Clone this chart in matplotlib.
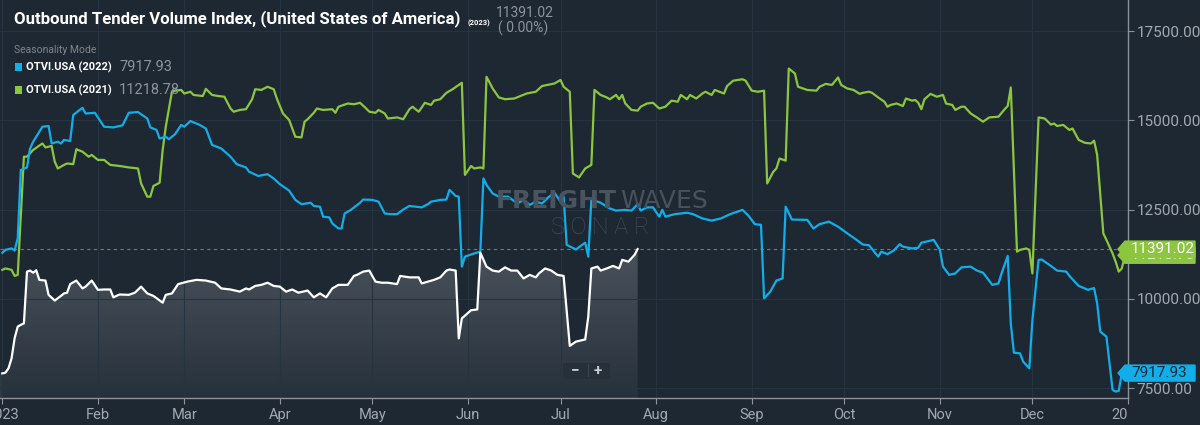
import numpy as np
import matplotlib
matplotlib.use('Agg')
import matplotlib.pyplot as plt
import matplotlib.dates as mdates
from matplotlib.colors import LinearSegmentedColormap
from matplotlib.patches import Polygon, Rectangle, FancyBboxPatch
from matplotlib.lines import Line2D
from matplotlib.transforms import Bbox

# day of year (0 = Jan 1) and index value
otvi_2023_day = [0, 1, 2, 3, 4, 5, 6, 7, 8, 9, 10, 11, 12, 14, 15, 17, 19, 20, 21, 22, 24, 26, 27, 29, 31,
                 33, 35, 36, 38, 41, 43, 45, 47, 49, 52, 53, 55, 57, 60, 63, 66, 69, 71, 74, 77, 79, 80, 82,
                 84, 86, 88, 90, 92, 94, 96, 99, 101, 103, 105, 107, 109, 112, 114, 115, 117, 119, 121, 123,
                 125, 128, 129, 132, 135, 136, 140, 142, 144, 145, 147, 148, 149, 152, 154, 155, 157, 159,
                 161, 163, 165, 167, 169, 171, 173, 174, 176, 178, 180, 182, 184, 186, 189, 190, 191, 193,
                 194, 196, 198, 200, 201, 203, 205, 206]
otvi_2023_val = [7910, 7930, 8050, 8330, 8900, 9220, 9270, 9310, 10760, 10790, 10730, 10800, 10530, 10510,
                 10110, 9950, 10080, 10150, 10170, 10410, 10510, 10290, 10340, 10510, 10250, 10260, 10260,
                 10040, 10120, 10110, 10170, 10340, 10150, 10080, 9890, 10110, 10150, 10410, 10480, 10530,
                 10510, 10450, 10290, 10260, 10200, 10290, 10260, 10360, 10390, 10450, 10360, 10340, 10200,
                 10260, 10170, 10230, 10040, 10150, 10040, 10290, 10390, 10390, 10640, 10670, 10760, 10790,
                 10480, 10450, 10450, 10410, 10640, 10600, 10600, 10430, 10530, 10600, 10790, 10820, 10790,
                 8890, 9450, 9680, 9700, 11290, 10900, 10790, 10760, 10880, 10790, 10790, 10570, 10670,
                 10600, 10710, 10850, 10790, 10670, 10640, 8680, 8800, 8860, 9500, 10850, 10900, 10790,
                 10850, 10920, 10850, 11090, 11040, 11230, 11391.02]

otvi_2022_day = [0, 1, 3, 4, 5, 6, 8, 9, 10, 13, 15, 16, 18, 19, 20, 22, 23, 26, 27, 30, 33, 36, 39, 41, 44,
                 47, 48, 50, 51, 53, 54, 56, 58, 59, 61, 64, 66, 68, 71, 74, 76, 79, 80, 83, 86, 88, 90, 93,
                 95, 97, 100, 101, 103, 104, 106, 107, 109, 110, 111, 113, 116, 117, 120, 122, 124, 126, 128,
                 130, 132, 134, 136, 138, 139, 142, 144, 145, 147, 148, 149, 150, 153, 155, 156, 157, 159,
                 161, 164, 167, 169, 171, 173, 175, 177, 179, 181, 182, 183, 186, 188, 189, 190, 191, 194,
                 197, 199, 202, 204, 206, 207, 209, 211, 213, 214, 215, 218, 222, 224, 227, 230, 233, 236,
                 240, 242, 244, 246, 247, 249, 251, 253, 254, 256, 261, 263, 265, 268, 271, 274, 277, 279,
                 281, 284, 285, 287, 289, 291, 292, 295, 297, 298, 302, 304, 305, 307, 309, 311, 314, 316,
                 318, 321, 323, 324, 326, 327, 328, 330, 331, 333, 334, 336, 337, 340, 342, 345, 346, 349,
                 351, 352, 354, 355, 356, 358, 360, 361, 362, 363]
otvi_2022_val = [11290, 11370, 11410, 11350, 11700, 13610, 13680, 14210, 14400, 14820, 14840, 14350, 14400,
                 14350, 14450, 14420, 15150, 15350, 15190, 15210, 14820, 14800, 14860, 15210, 15230, 15050,
                 14800, 14730, 14490, 14540, 14470, 14610, 14870, 14820, 14980, 14870, 14770, 14310, 14210,
                 13980, 13770, 13680, 13560, 13440, 13490, 13370, 13210, 13030, 12770, 12650, 12690, 12600,
                 12580, 12300, 12280, 12110, 11970, 11970, 12390, 12490, 12690, 12780, 12770, 12720, 12390,
                 12370, 12370, 12500, 12600, 12580, 12560, 12650, 12720, 12770, 12780, 13050, 12880, 12860,
                 10900, 11180, 11270, 11320, 13370, 13190, 12950, 12860, 12860, 12670, 12770, 12630, 12720,
                 12670, 12840, 12970, 12720, 12860, 11510, 11380, 11510, 11570, 11180, 12780, 12690, 12530,
                 12470, 12490, 12470, 12650, 12470, 12560, 12560, 12300, 12490, 12300, 12370, 12410, 12370,
                 12250, 12190, 12250, 12370, 12490, 12320, 12090, 12070, 10010, 10200, 10510, 10570, 12580,
                 12220, 12210, 11970, 12090, 12160, 12020, 11830, 11650, 11520, 11500, 11180, 11320, 11250,
                 11350, 11530, 11460, 11410, 11430, 11570, 11650, 11370, 10900, 10670, 10710, 10880, 10900,
                 10790, 10730, 10390, 10430, 10710, 11200, 9300, 8490, 8470, 8240, 8050, 9400, 11090, 11100,
                 10920, 10790, 10760, 10640, 10360, 10290, 10250, 10300, 9870, 9080, 8940, 7450, 7400, 7420,
                 7917.93]

otvi_2021_day = [0, 1, 3, 4, 5, 6, 7, 8, 10, 13, 14, 16, 17, 18, 20, 21, 23, 24, 26, 28, 29, 31, 33, 35, 38,
                 41, 44, 45, 47, 48, 49, 51, 52, 53, 55, 56, 58, 59, 61, 62, 65, 66, 68, 70, 72, 74, 75, 77,
                 79, 81, 82, 84, 86, 88, 89, 91, 93, 95, 97, 98, 99, 101, 102, 104, 107, 108, 109, 112, 114,
                 116, 118, 119, 121, 122, 124, 125, 128, 130, 132, 133, 135, 136, 137, 139, 140, 142, 144,
                 146, 148, 149, 150, 152, 153, 155, 156, 157, 159, 161, 163, 166, 168, 170, 173, 175, 179,
                 181, 182, 184, 185, 187, 189, 191, 192, 194, 196, 197, 199, 200, 201, 202, 204, 206, 207,
                 209, 211, 213, 215, 217, 219, 220, 222, 223, 225, 227, 228, 230, 231, 234, 235, 237, 240,
                 241, 243, 245, 247, 248, 250, 251, 252, 254, 255, 257, 258, 261, 264, 265, 267, 269, 271,
                 272, 274, 276, 278, 279, 281, 282, 284, 286, 287, 288, 290, 292, 293, 295, 296, 297, 298,
                 299, 301, 303, 305, 306, 308, 309, 311, 312, 314, 316, 318, 320, 323, 325, 326, 327, 329,
                 330, 332, 333, 334, 336, 338, 340, 341, 342, 344, 346, 347, 349, 351, 353, 354, 355, 357,
                 358, 360, 361, 362, 363, 364]
otvi_2021_val = [10810, 10850, 10810, 10640, 10670, 12300, 13980, 13980, 14170, 14350, 14240, 14280, 13840,
                 13650, 13750, 13790, 13770, 14190, 14120, 13980, 14030, 13890, 13890, 13750, 13720, 13680,
                 13650, 13230, 12860, 12860, 13160, 13250, 14170, 14820, 15800, 15830, 15850, 15750, 15800,
                 15710, 15680, 15880, 15710, 15680, 15660, 15330, 15240, 15290, 15310, 15590, 15870, 15850,
                 15940, 15870, 15610, 15190, 15010, 14540, 14520, 14960, 15030, 15210, 15330, 15290, 15310,
                 15210, 15380, 15470, 15450, 15490, 15330, 15240, 15210, 15290, 15190, 15050, 15080, 15030,
                 15310, 15380, 15240, 15360, 15490, 15430, 15550, 15590, 15770, 15870, 15990, 16050, 13470,
                 13720, 13650, 13680, 13650, 16220, 15890, 15640, 15590, 15610, 15680, 15750, 15800, 15960,
                 16030, 16130, 15940, 15800, 13510, 13400, 13650, 13750, 15850, 15710, 15640, 15590, 15710,
                 15590, 15710, 15470, 15290, 15270, 15380, 15470, 15490, 15330, 15380, 15550, 15520, 15710,
                 15590, 15710, 15610, 15750, 15800, 15710, 15850, 15750, 15960, 16110, 16150, 16110, 15830,
                 15800, 15830, 13230, 13560, 13650, 13930, 13870, 16450, 16310, 15940, 15850, 15830, 15940,
                 16020, 15990, 16200, 15990, 15890, 15850, 15740, 15770, 15800, 15770, 15640, 15520, 15380,
                 15430, 15470, 15400, 15610, 15550, 15570, 15490, 15310, 15590, 15740, 15660, 15710, 15470,
                 15430, 15290, 15380, 15380, 15190, 15080, 14960, 15080, 15100, 15310, 15400, 15920, 11320,
                 11370, 11410, 11370, 10710, 15080, 15050, 14880, 14910, 14840, 14870, 14730, 14770, 14450,
                 14370, 14350, 14430, 14030, 11830, 11650, 11270, 11040, 10760, 10850, 11218.78]

series_names = ['OTVI.USA (2022)', 'OTVI.USA (2021)']
y_ticks = [7500, 10000, 12500, 15000, 17500]

bg = '#1d2833'
blue = '#12aeea'
green = '#8cc63f'
axis_col = '#8b9299'
text_col = '#a3a9b0'

base = np.datetime64('2023-01-01')


def to_dates(days):
    return base + np.array(days).astype('timedelta64[D]')


plt.rcParams['font.family'] = ['Roboto', 'DejaVu Sans']

fig = plt.figure(figsize=(12, 4.25), dpi=100, facecolor=bg)
W, H = 1200, 425
ax = fig.add_axes([0, 1 - 398 / H, 1128 / W, 398 / H])
ax.set_facecolor(bg)

d23 = to_dates(otvi_2023_day)
d22 = to_dates(otvi_2022_day)
d21 = to_dates(otvi_2021_day)

ymin, ymax = 7220, 18370
ax.plot(d21, otvi_2021_val, color=green, lw=1.6, zorder=3, solid_joinstyle='round')
ax.plot(d22, otvi_2022_val, color=blue, lw=1.6, zorder=3, solid_joinstyle='round')
ax.plot(d23, otvi_2023_val, color='white', lw=1.6, zorder=4, solid_joinstyle='round')

# shaded area under the 2023 line, darker towards the bottom
fill = ax.fill_between(d23, otvi_2023_val, ymin, color='none', lw=0)
grad = np.linspace(0, 1, 256).reshape(-1, 1)
cmap = LinearSegmentedColormap.from_list('area', ['#27313b', '#4a535c'])
x0 = mdates.date2num(np.datetime64('2022-12-30'))
x1 = mdates.date2num(d23[-1])
im = ax.imshow(grad, aspect='auto', cmap=cmap, origin='lower',
               extent=[x0, x1, ymin, 11500], zorder=1)
im.set_clip_path(fill.get_paths()[0], transform=ax.transData)
ax.fill_between([d23[0] - np.timedelta64(2, 'D'), d23[0]], [otvi_2023_val[0]] * 2, ymin,
                color='#2f3942', lw=0, zorder=1)

ax.axhline(otvi_2023_val[-1], color='#6e7f63', lw=0.8, ls=(0, (3, 3)), zorder=2)

ax.set_xlim(np.datetime64('2022-12-31T06'), np.datetime64('2024-01-01T00'))
ax.set_ylim(ymin, ymax)

ax.yaxis.tick_right()
ax.set_yticks(y_ticks)
ax.set_yticklabels(['%.2f' % v for v in y_ticks])
ax.xaxis.set_major_locator(mdates.MonthLocator())
ax.xaxis.set_major_formatter(
    plt.FuncFormatter(lambda v, p: mdates.num2date(v).strftime('%Y' if mdates.num2date(v).month == 1 else '%b')))
ax.tick_params(axis='y', colors=axis_col, labelcolor=text_col, labelsize=11, length=4, pad=2)
ax.tick_params(axis='x', colors=axis_col, labelcolor=text_col, labelsize=10.5, length=4, pad=3)
ax.grid(True, color='#263340', lw=0.8, zorder=0)
for side in ['top', 'left']:
    ax.spines[side].set_visible(False)
for side in ['right', 'bottom']:
    ax.spines[side].set_color(axis_col)
    ax.spines[side].set_linewidth(1)

clip = Bbox.from_extents(0, 0, 1128, H)
for lab in ax.get_xticklabels():
    lab.set_clip_box(clip)
    lab.set_clip_on(True)

# value tags on the right axis
ytr = ax.get_yaxis_transform()
dpx = (ymax - ymin) / 398


def tag(value, text, face, tcolor, z):
    pts = [(-10, 0), (-3, 8), (67, 8), (67, -8), (-3, -8)]
    poly = Polygon([(1 + px / 1128, value + py * dpx) for px, py in pts], closed=True,
                   transform=ytr, facecolor=face, edgecolor=face, clip_on=False, zorder=z)
    ax.add_patch(poly)
    ax.text(1 + 3 / 1128, value, text, transform=ytr, color=tcolor, fontsize=11,
            va='center', ha='left', clip_on=False, zorder=z + 0.1)


tag(otvi_2021_val[-1], '%.2f' % otvi_2021_val[-1], green, '#dfeccd', 6)
tag(otvi_2023_val[-1], '%.2f' % otvi_2023_val[-1], green, 'white', 7)
tag(otvi_2022_val[-1], '%.2f' % otvi_2022_val[-1], blue, '#13283a', 7)

# watermark
fig.text(617 / W, 1 - 201 / H, 'FREIGHT', color='#4a545e', fontsize=18, fontweight='bold',
         family='DejaVu Sans', ha='right', va='center', zorder=2)
fig.text(620 / W, 1 - 201 / H, 'WAVES', color='#48525c', fontsize=18,
         family='DejaVu Sans', ha='left', va='center', zorder=2)
fig.text(600 / W, 1 - 227 / H, 'S O N A R', color='#404a55', fontsize=17, fontweight='light',
         ha='center', va='center', zorder=2)

# zoom buttons
btn = FancyBboxPatch((563 / W, 1 - 379 / H), 47 / W, 16 / H, boxstyle='round,pad=0,rounding_size=0.004',
                     transform=fig.transFigure, facecolor='#26303a', edgecolor='none', zorder=5)
fig.patches.append(btn)
fig.lines.append(Line2D([588 / W, 588 / W], [1 - 376 / H, 1 - 364 / H], transform=fig.transFigure,
                        color='#3a444e', lw=0.8, zorder=6))
fig.text(575 / W, 1 - 370.5 / H, '\u2212', color='#c9ced3', fontsize=11, ha='center', va='center',
         fontweight='bold', zorder=6)
fig.text(598 / W, 1 - 370.5 / H, '+', color='#c9ced3', fontsize=11, ha='center', va='center',
         fontweight='bold', zorder=6)

# header
title = fig.text(14 / W, 1 - 19 / H, 'Outbound Tender Volume Index, (United States of America)',
                 color='white', fontsize=15, fontweight='bold', ha='left', va='center')
r = fig.canvas.get_renderer()
tw = title.get_window_extent(r).width
title.set_fontsize(15 * 450 / tw)
fig.text(467 / W, 1 - 23 / H, '(2023)', color='white', fontsize=5.5, fontweight='bold',
         ha='left', va='center')
fig.text(496 / W, 1 - 13 / H, '%.2f' % otvi_2023_val[-1], color='#8d949b', fontsize=10,
         ha='left', va='center')
fig.text(498 / W, 1 - 28 / H, '( 0.00%)', color='#8d949b', fontsize=10, ha='left', va='center')
fig.text(14 / W, 1 - 50 / H, 'Seasonality Mode', color='#7f868d', fontsize=7.5, ha='left', va='center')

legend_vals = [otvi_2022_val[-1], otvi_2021_val[-1]]
for i, (name, col, val) in enumerate(zip(series_names, [blue, green], legend_vals)):
    yc = 67 + i * 23
    fig.patches.append(Rectangle((14.5 / W, 1 - (yc + 4) / H), 7 / W, 8 / H, transform=fig.transFigure,
                                 facecolor=col, edgecolor='none'))
    fig.text(26 / W, 1 - yc / H, name, color='white', fontsize=8, fontweight='bold', ha='left', va='center')
    fig.text(119 / W, 1 - yc / H, '%.2f' % val, color='#8d949b', fontsize=10.5, ha='left', va='center')

fig.savefig('out.png', dpi=100, facecolor=bg)
